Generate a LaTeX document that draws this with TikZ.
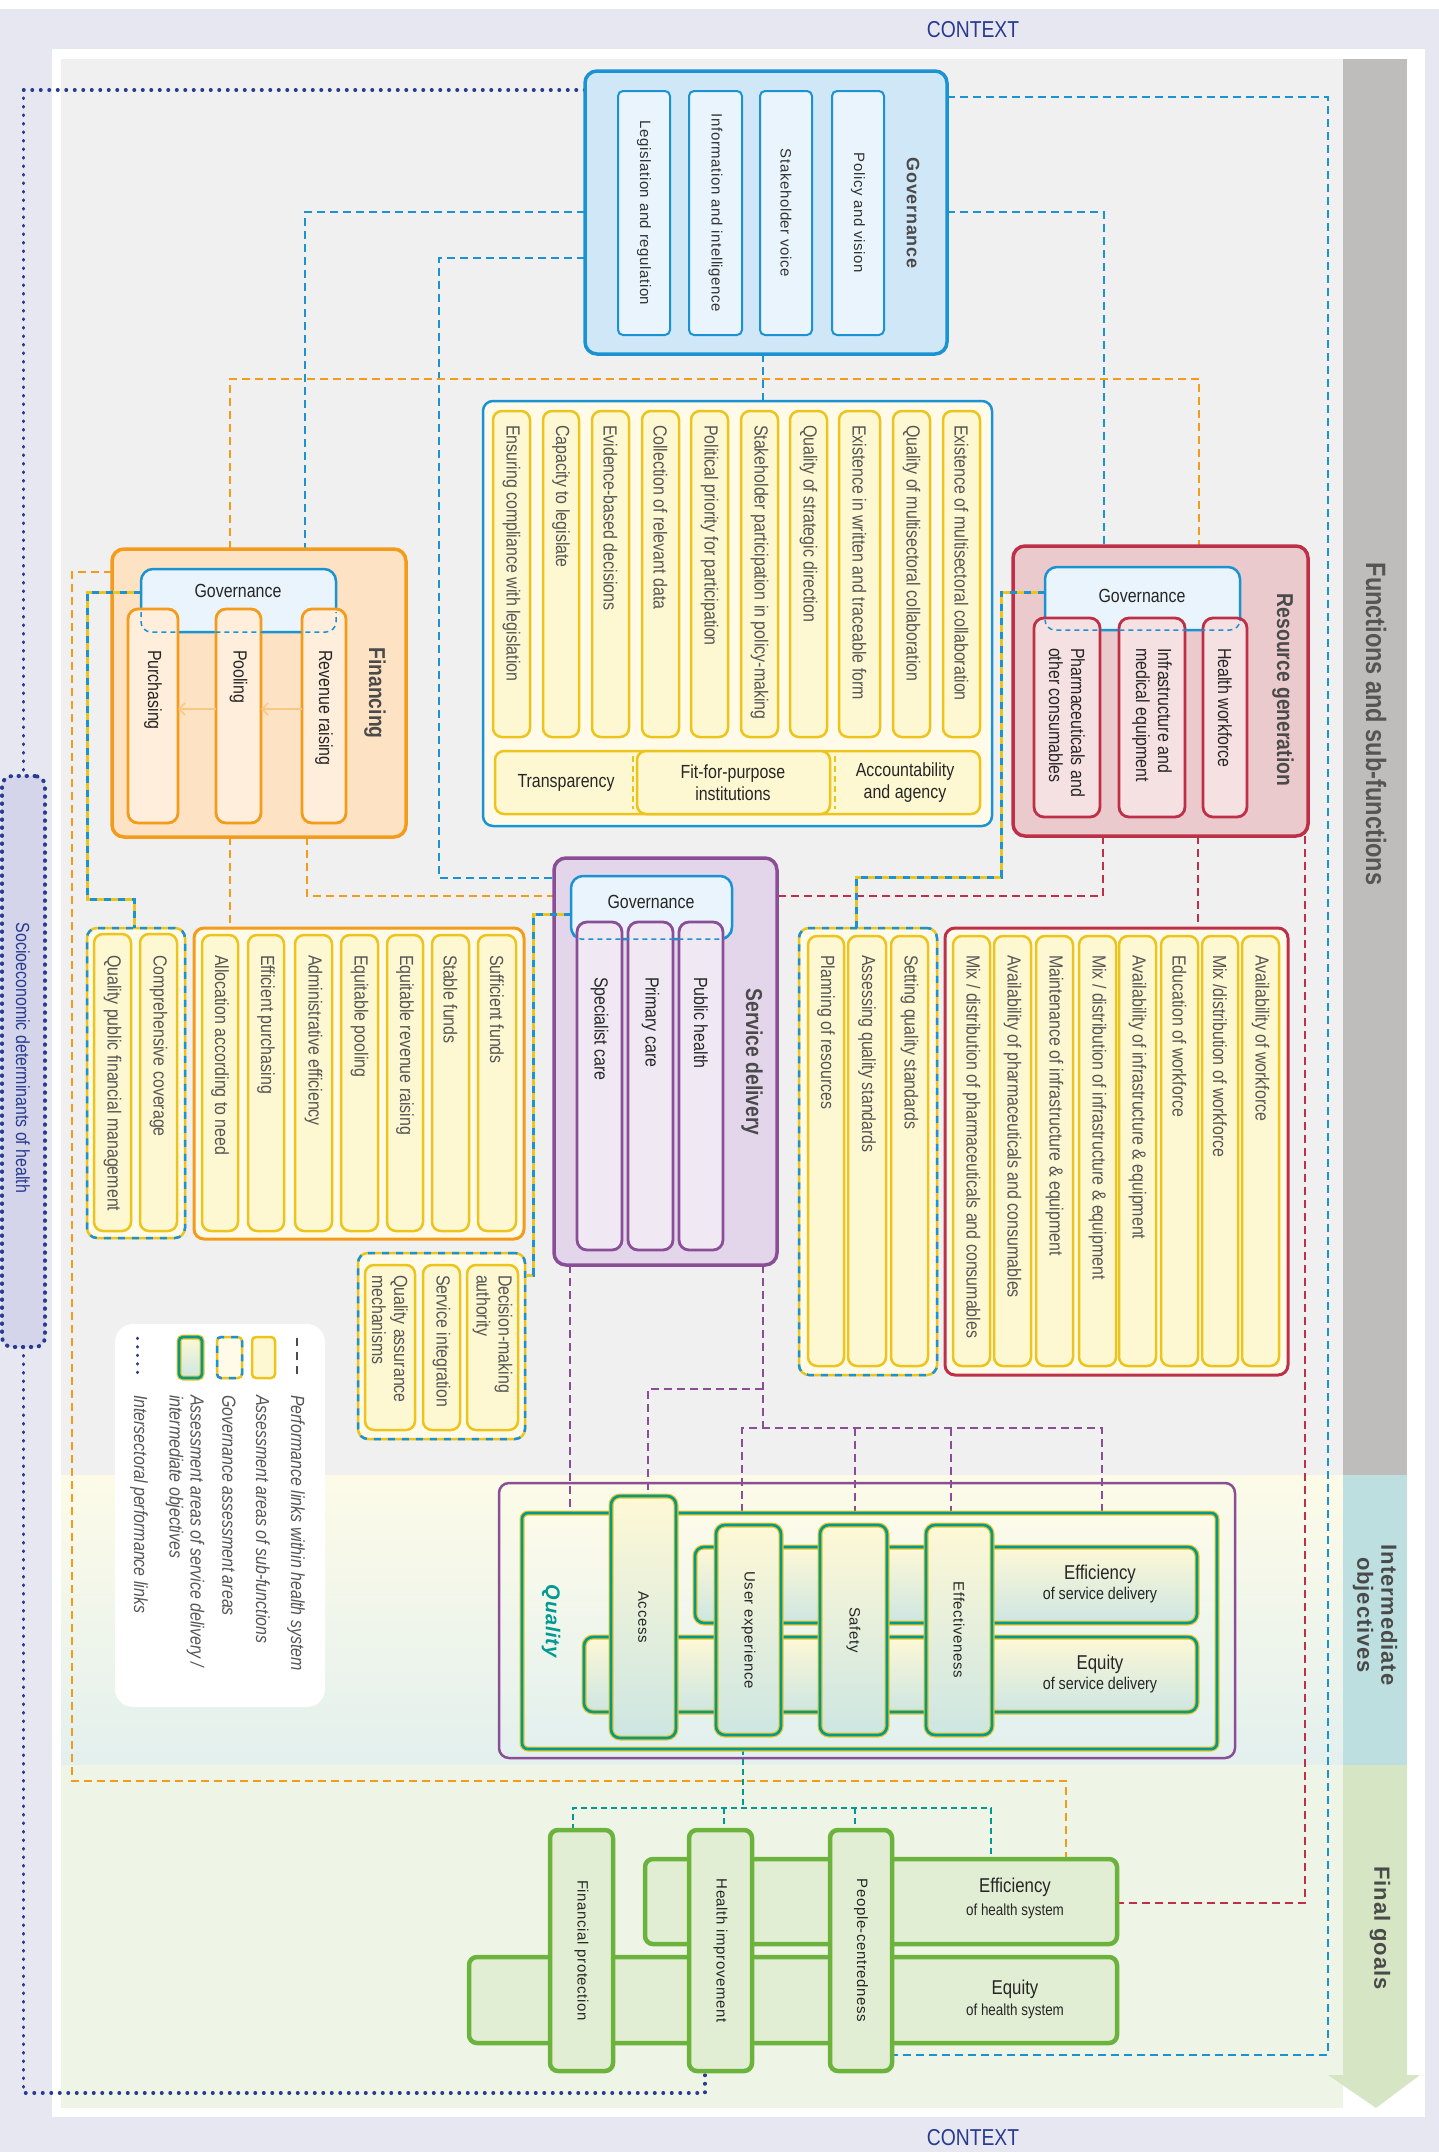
\documentclass[tikz,border=0pt]{standalone}
\usepackage{fontspec}
\setmainfont{Liberation Sans}
\newfontfamily\cnd[FakeStretch=0.84]{Liberation Sans}
\newfontfamily\wdf[LetterSpace=4]{Liberation Sans}
\usetikzlibrary{calc,arrows.meta}
\pgfdeclarelayer{bg}\pgfdeclarelayer{conn}
\pgfsetlayers{bg,conn,main}
\definecolor{lav}{HTML}{E7E7F2}
\definecolor{greyarea}{HTML}{F0F0F0}
\definecolor{funcol}{HTML}{BEBDBC}
\definecolor{intcol}{HTML}{BEDFE0}
\definecolor{fincol}{HTML}{D6E6C4}
\definecolor{finband}{HTML}{EFF5E6}
\definecolor{intop}{HTML}{FDFBE8}
\definecolor{inbot}{HTML}{E3F0EE}
\definecolor{gblue}{HTML}{1B93D3}
\definecolor{gfill}{HTML}{D0E7F7}
\definecolor{gsub}{HTML}{EAF4FC}
\definecolor{orng}{HTML}{F39B1B}
\definecolor{ofill}{HTML}{FDE3C4}
\definecolor{ocol}{HTML}{FEEEDB}
\definecolor{crim}{HTML}{BE3047}
\definecolor{cfill}{HTML}{EBCACD}
\definecolor{ccol}{HTML}{F5E0E2}
\definecolor{purp}{HTML}{8A4E97}
\definecolor{pfill}{HTML}{E3D6EA}
\definecolor{pcol}{HTML}{F0E9F4}
\definecolor{ylw}{HTML}{EDC41C}
\definecolor{yfill}{HTML}{FEF8D2}
\definecolor{cream}{HTML}{FFFBE8}
\definecolor{tealc}{HTML}{009A93}
\definecolor{ibtop}{HTML}{FEF8D6}
\definecolor{ibbot}{HTML}{CDE6E2}
\definecolor{qtop}{HTML}{FDFBEA}
\definecolor{qbot}{HTML}{E2F0EE}
\definecolor{grn}{HTML}{6BB33D}
\definecolor{gnfill}{HTML}{E2EED3}
\definecolor{dkblue}{HTML}{283B8F}
\definecolor{sociof}{HTML}{D4D4EA}
\definecolor{txtg}{HTML}{555555}
\definecolor{titg}{HTML}{4A4A4A}
\newcommand\bx[6]{\pgfmathsetmacro\mybw{#5-#3}\pgfmathsetmacro\mybh{#6-#4}%
  \node[#1, minimum width=\mybw pt, minimum height=\mybh pt, anchor=north west] (#2) at (#3,#4) {};}
\newcommand\col[8][15]{\bx{#2}{#3}{#4}{#5}{#6}{#7}%
  \node[#2t, rotate=-90, anchor=west, align=left] (#3t) at ($(#3.north)+(0,#1)$) {#8};}
\tikzset{
 every node/.style={inner sep=0pt, outer sep=0pt},
 mainbox/.style={draw, line width=3.5pt, rounded corners=12pt},
 govbig/.style={mainbox, draw=gblue, fill=gfill},
 govcol/.style={draw=gblue, line width=2pt, fill=gsub, rounded corners=5pt},
 govsub/.style={draw=gblue, line width=2.5pt, fill=gsub, rounded corners=12pt},
 finbox/.style={mainbox, draw=orng, fill=ofill},
 fcol/.style={draw=orng, line width=2.8pt, fill=ocol, rounded corners=10pt},
 rgbox/.style={mainbox, draw=crim, fill=cfill},
 rcol/.style={draw=crim, line width=2.8pt, fill=ccol, rounded corners=10pt},
 sdbox/.style={mainbox, draw=purp, fill=pfill},
 pcolb/.style={draw=purp, line width=2.8pt, fill=pcol, rounded corners=10pt},
 item/.style={draw=ylw, line width=2.5pt, fill=yfill, rounded corners=9pt},
 glist/.style={draw=gblue, line width=2.5pt, fill=cream, rounded corners=10pt},
 olist/.style={draw=orng, line width=3pt, fill=cream, rounded corners=10pt},
 clist/.style={draw=crim, line width=3pt, fill=cream, rounded corners=10pt},
 gassess/.style={draw=ylw, line width=2.5pt, fill=cream, rounded corners=10pt,
   postaction={draw=gblue, line width=2.5pt, dash pattern=on 7pt off 7pt}},
 ibox/.style={draw=ylw, double=tealc, double distance=2.6pt, line width=1.2pt,
   rounded corners=9pt, top color=ibtop, bottom color=ibbot},
 qbox/.style={ibox, rounded corners=6pt, top color=qtop, bottom color=qbot},
 gbox/.style={draw=grn, line width=4.5pt, fill=gnfill, rounded corners=8pt},
 sociobox/.style={draw=dkblue, fill=sociof, line width=4pt, dash pattern=on 0.5pt off 7.5pt, line cap=round, rounded corners=10pt},
 legbox/.style={fill=white, rounded corners=18pt},
 purpbx/.style={draw=purp, line width=2.5pt, rounded corners=10pt},
 cndt/.style={font=\cnd\fontsize{19}{22}\selectfont},
 itemt/.style={cndt, text=txtg},
 fcolt/.style={cndt, text=black!85},
 rcolt/.style={cndt, text=black!85},
 pcolbt/.style={cndt, text=black!85},
 subgt/.style={cndt, text=black!85},
 gwt/.style={font=\wdf\fontsize{15}{18}\selectfont, text=black!80, rotate=-90},
 pilt/.style={font=\wdf\fontsize{15}{18}\selectfont, text=black!85, rotate=-90},
 ttl/.style={rotate=-90, font=\cnd\bfseries\fontsize{23}{26}\selectfont, text=titg},
 bandt/.style={rotate=-90, font=\wdf\bfseries\fontsize{22}{24}\selectfont, text=titg, align=center},
 legt/.style={rotate=-90, anchor=west, align=left, font=\cnd\itshape\fontsize{19}{21}\selectfont, text=txtg},
 lnk/.style={line width=2.5pt, dash pattern=on 8pt off 5pt},
 lnb/.style={lnk, draw=gblue},
 lno/.style={lnk, draw=orng},
 lnc/.style={lnk, draw=crim},
 lnp/.style={lnk, draw=purp},
 lnt/.style={line width=2.5pt, dash pattern=on 6pt off 4pt, draw=tealc},
 byline/.style={draw=ylw, line width=3pt, postaction={draw=gblue, line width=3pt, dash pattern=on 7pt off 7pt}},
 dotl/.style={line width=3.5pt, draw=dkblue, dash pattern=on 0.5pt off 8pt, line cap=round},
 farr/.style={draw=orng!55, line width=1.5pt, -{Straight Barb[length=6pt,width=12pt]}},
}
\begin{document}
\begin{tikzpicture}[x=1pt,y=-1pt]
\useasboundingbox (0,0) rectangle (1439,2152);
\begin{pgfonlayer}{bg}
\fill[white] (0,0) rectangle (1439,2152);
\fill[lav] (0,9) rectangle (1439,2152);
\fill[white] (52,49) rectangle (1425,2117);
\fill[greyarea] (61,59) rectangle (1343,1475);
\fill[funcol] (1343,59) rectangle (1407,1475);
\shade[top color=intop, bottom color=inbot] (61,1475) rectangle (1343,1765);
\fill[intcol] (1343,1475) rectangle (1407,1765);
\fill[finband] (61,1765) rectangle (1343,2108);
\fill[fincol] (1343,1765) -- (1407,1765) -- (1407,2075) -- (1420,2075) -- (1376,2108) -- (1328,2075) -- (1343,2075) -- cycle;
\end{pgfonlayer}

% band labels and context
\node[rotate=-90, font=\cnd\bfseries\fontsize{28}{30}\selectfont, text=txtg] (lblfun) at (1376,724) {Functions and sub-functions};
\node[bandt] (lblint) at (1375,1615) {Intermediate\\objectives};
\node[bandt] (lblfin) at (1380,1928) {Final goals};
\node[font=\cnd\fontsize{23}{26}\selectfont, text=dkblue] (ctx1) at (973,30) {CONTEXT};
\node[font=\cnd\fontsize{23}{26}\selectfont, text=dkblue] (ctx2) at (973,2138) {CONTEXT};

% socioeconomic determinants
\bx{sociobox}{socio}{2}{776}{45}{1347}
\node[rotate=-90, font=\cnd\fontsize{19}{22}\selectfont, text=dkblue] (sociot) at (23,1058) {Socioeconomic determinants of health};

% top governance
\bx{govbig}{topgov}{585}{71}{947}{354}
\bx{govcol}{gc1}{618}{91}{670}{335}
\bx{govcol}{gc2}{689}{91}{742}{335}
\bx{govcol}{gc3}{760}{91}{812}{335}
\bx{govcol}{gc4}{832}{91}{884}{335}
\node[gwt] (gc1t) at (gc1.center) {Legislation and regulation};
\node[gwt] (gc2t) at (gc2.center) {Information and intelligence};
\node[gwt] (gc3t) at (gc3.center) {Stakeholder voice};
\node[gwt] (gc4t) at (gc4.center) {Policy and vision};
\node[rotate=-90, font=\wdf\bfseries\fontsize{18}{20}\selectfont, text=titg] (topgovt) at (913,213) {Governance};

% governance assessment list
\bx{glist}{govlist}{483}{401}{992}{826}
\col[14]{item}{gl1}{493}{411}{530}{737}{Ensuring compliance with legislation}
\col[14]{item}{gl2}{543}{411}{579}{737}{Capacity to legislate}
\col[14]{item}{gl3}{592}{411}{629}{737}{Evidence-based decisions}
\col[14]{item}{gl4}{642}{411}{679}{737}{Collection of relevant data}
\col[14]{item}{gl5}{691}{411}{728}{737}{Political priority for participation}
\col[14]{item}{gl6}{741}{411}{778}{737}{Stakeholder participation in policy-making}
\col[14]{item}{gl7}{790}{411}{827}{737}{Quality of strategic direction}
\col[14]{item}{gl8}{839}{411}{880}{737}{Existence in written and traceable form}
\col[14]{item}{gl9}{893}{411}{930}{737}{Quality of multisectoral collaboration}
\col[14]{item}{gl10}{943}{411}{980}{737}{Existence of multisectoral collaboration}
\bx{item}{glrow}{495}{751}{980}{814}
\bx{item}{glmid}{637}{751}{830}{814}
\draw[draw=ylw, line width=2pt, dash pattern=on 6pt off 4pt] (633,756) -- (633,809);
\draw[draw=ylw, line width=2pt, dash pattern=on 6pt off 4pt] (835,756) -- (835,809);
\node[subgt] (trt) at (566,783) {Transparency};
\node[subgt, align=center] (fft) at (733,783) {Fit-for-purpose\\institutions};
\node[subgt, align=center] (act) at (905,783) {Accountability\\and agency};

% financing
\bx{finbox}{fin}{112}{549}{406}{837}
\bx{govsub}{fingov}{141}{569}{336}{632}
\node[subgt] (fingovt) at (238,591) {Governance};
\col[41]{fcol}{purch}{128}{609}{178}{823}{Purchasing}
\col[41]{fcol}{pool}{216}{609}{261}{823}{Pooling}
\col[41]{fcol}{rev}{302}{609}{346}{823}{Revenue raising}
\draw[gblue, line width=1.5pt, dash pattern=on 5pt off 4pt, rounded corners=10pt] (141,612) -- (141,632) -- (336,632) -- (336,612);
\draw[farr] (rev.west |- 0,709) -- (pool.east |- 0,709);
\draw[farr] (pool.west |- 0,709) -- (purch.east |- 0,709);
\node[ttl] (fint) at (375,693) {Financing};

% resource generation
\bx{rgbox}{resgen}{1013}{546}{1308}{836}
\bx{govsub}{rggov}{1045}{567}{1240}{630}
\node[subgt] (rggovt) at (1142,596) {Governance};
\col[30]{rcol}{pharm}{1034}{618}{1100}{817}{Pharmaceuticals and\\other consumables}
\col[30]{rcol}{infra}{1119}{618}{1185}{817}{Infrastructure and\\medical equipment}
\col[30]{rcol}{hwf}{1203}{618}{1247}{817}{Health workforce}
\draw[gblue, line width=1.5pt, dash pattern=on 5pt off 4pt, rounded corners=10pt] (1045,621) -- (1045,630) -- (1240,630) -- (1240,621);
\node[ttl] (rgt) at (1283,690) {Resource generation};

% service delivery
\bx{sdbox}{sd}{554}{858}{777}{1265}
\bx{govsub}{sdgov}{571}{876}{732}{939}
\node[subgt] (sdgovt) at (651,902) {Governance};
\col[55]{pcolb}{spec}{577}{922}{622}{1250}{Specialist care}
\col[55]{pcolb}{prim}{628}{922}{673}{1250}{Primary care}
\col[55]{pcolb}{pubh}{679}{922}{723}{1250}{Public health}
\draw[gblue, line width=1.5pt, dash pattern=on 5pt off 4pt, rounded corners=10pt] (571,925) -- (571,939) -- (732,939) -- (732,925);
\node[ttl] (sdt) at (752,1062) {Service delivery};

% financing assessment
\bx{gassess}{finga}{87}{928}{185}{1238}
\col[21]{item}{fa1}{94}{934}{131}{1231}{Quality public financial management}
\col[21]{item}{fa2}{140}{934}{177}{1231}{Comprehensive coverage}
\bx{olist}{finlist}{194}{928}{524}{1239}
\col[20]{item}{fl1}{202}{935}{238}{1231}{Allocation according to need}
\col[20]{item}{fl2}{248}{935}{284}{1231}{Efficient purchasing}
\col[20]{item}{fl3}{295}{935}{332}{1231}{Administrative efficiency}
\col[20]{item}{fl4}{341}{935}{378}{1231}{Equitable pooling}
\col[20]{item}{fl5}{387}{935}{423}{1231}{Equitable revenue raising}
\col[20]{item}{fl6}{432}{935}{469}{1231}{Stable funds}
\col[20]{item}{fl7}{478}{935}{516}{1231}{Sufficient funds}

% service delivery governance assessment
\bx{gassess}{sdga}{358}{1253}{525}{1439}
\col[10]{item}{sa1}{365}{1265}{415}{1430}{Quality assurance\\mechanisms}
\col[10]{item}{sa2}{423}{1265}{460}{1430}{Service integration}
\col[10]{item}{sa3}{467}{1265}{518}{1430}{Decision-making\\authority}

% resource generation assessment
\bx{gassess}{sda}{799}{928}{937}{1375}
\col[19]{item}{sd1}{808}{936}{844}{1366}{Planning of resources}
\col[19]{item}{sd2}{848}{936}{886}{1366}{Assessing quality standards}
\col[19]{item}{sd3}{891}{936}{928}{1366}{Setting quality standards}
\bx{clist}{rglist}{945}{928}{1288}{1375}
\col[19]{item}{rl1}{953}{936}{990}{1366}{Mix / distribution of pharmaceuticals and consumables}
\col[19]{item}{rl2}{994}{936}{1031}{1366}{Availability of pharmaceuticals and consumables}
\col[19]{item}{rl3}{1036}{936}{1073}{1366}{Maintenance of infrastructure \& equipment}
\col[19]{item}{rl4}{1079}{936}{1116}{1366}{Mix / distribution of infrastructure \& equipment}
\col[19]{item}{rl5}{1119}{936}{1156}{1366}{Availability of infrastructure \& equipment}
\col[19]{item}{rl6}{1161}{936}{1198}{1366}{Education of workforce}
\col[19]{item}{rl7}{1202}{936}{1238}{1366}{Mix /distribution of workforce}
\col[19]{item}{rl8}{1242}{936}{1279}{1366}{Availability of workforce}

% legend
\bx{legbox}{legend}{115}{1324}{325}{1707}
\draw[draw=black!70, line width=2pt, dash pattern=on 8pt off 6pt] (297,1338) -- (297,1378);
\bx{item, rounded corners=4pt}{lg2}{252}{1337}{275}{1378}
\bx{gassess, rounded corners=4pt}{lg3}{217}{1337}{242}{1378}
\bx{ibox, rounded corners=4pt}{lg4}{179}{1337}{202}{1378}
\draw[dotl, line width=3pt] (137,1338) -- (137,1380);
\node[legt] (lgt1) at (296,1395) {Performance links within health system};
\node[legt] (lgt2) at (263,1395) {Assessment areas of sub-functions};
\node[legt] (lgt3) at (229,1395) {Governance assessment areas};
\node[legt] (lgt4) at (185,1395) {Assessment areas of service delivery /\\intermediate objectives};
\node[legt] (lgt5) at (139,1395) {Intersectoral performance links};

% intermediate objectives
\bx{purpbx}{purpbox}{499}{1483}{1235}{1758}
\bx{qbox}{qual}{522}{1513}{1217}{1749}
\node[rotate=-90, font=\wdf\bfseries\itshape\fontsize{20}{22}\selectfont, text=tealc] (qualt) at (551,1621) {Quality};
\bx{ibox}{effsd}{695}{1547}{1197}{1623}
\bx{ibox}{eqsd}{584}{1637}{1197}{1712}
\node[font=\cnd\fontsize{20}{22}\selectfont, text=black!85] (effsdt1) at (1100,1574) {Efficiency};
\node[font=\cnd\fontsize{17}{20}\selectfont, text=black!85] (effsdt2) at (1100,1595) {of service delivery};
\node[font=\cnd\fontsize{20}{22}\selectfont, text=black!85] (eqsdt1) at (1100,1664) {Equity};
\node[font=\cnd\fontsize{17}{20}\selectfont, text=black!85] (eqsdt2) at (1100,1685) {of service delivery};
\bx{ibox}{access}{611}{1496}{676}{1738}
\bx{ibox}{ux}{716}{1525}{781}{1735}
\bx{ibox}{safety}{820}{1525}{887}{1735}
\bx{ibox}{effect}{926}{1525}{992}{1735}
\node[pilt] (accesst) at (access.center) {Access};
\node[pilt] (uxt) at (ux.center) {User experience};
\node[pilt] (safetyt) at (safety.center) {Safety};
\node[pilt] (effectt) at (effect.center) {Effectiveness};

% final goals
\bx{gbox}{effhs}{645}{1859}{1117}{1944}
\bx{gbox}{eqhs}{469}{1957}{1117}{2043}
\node[font=\cnd\fontsize{20}{22}\selectfont, text=black!85] (effhst1) at (1015,1887) {Efficiency};
\node[font=\cnd\fontsize{16}{19}\selectfont, text=black!85] (effhst2) at (1015,1911) {of health system};
\node[font=\cnd\fontsize{20}{22}\selectfont, text=black!85] (eqhst1) at (1015,1989) {Equity};
\node[font=\cnd\fontsize{16}{19}\selectfont, text=black!85] (eqhst2) at (1015,2011) {of health system};
\bx{gbox}{fp}{550}{1830}{613}{2071}
\bx{gbox}{hi}{689}{1830}{752}{2071}
\bx{gbox}{pc}{830}{1830}{892}{2071}
\node[pilt] (fpt) at (fp.center) {Financial protection};
\node[pilt] (hit) at (hi.center) {Health improvement};
\node[pilt] (pct) at (pc.center) {People-centredness};

% governance-assessment links (over boxes)
\draw[byline] (fingov.west |- 0,592) -- (87,592) -- (87,899) -- (134,899) -- (134,0 |- finga.north);
\draw[byline] (rggov.west |- 0,592) -- (1001,592) -- (1001,877) -- (856,877) -- (856,0 |- sda.north);
\draw[byline] (sdgov.west |- 0,914) -- (533,914) -- (533,1275) -- (sdga.east |- 0,1275);

\begin{pgfonlayer}{conn}
\draw[dotl] (topgov.west |- 0,90) -| (socio.north);
\draw[dotl] (socio.south) |- (705,2093) -- (705,0 |- hi.south);
\draw[lnb] (topgov.east |- 0,97) -| (1328,2055) -- (pc.east |- 0,2055);
\draw[lnb] (topgov.east |- 0,212) -| (1104,0 |- resgen.north);
\draw[lnb] (topgov.west |- 0,212) -| (305,0 |- fin.north);
\draw[lnb] (topgov.west |- 0,258) -| (439,878) -- (sd.west |- 0,878);
\draw[lnb] (763,0 |- topgov.south) -- (763,0 |- govlist.north);
\draw[lno] (230,0 |- fin.north) |- (1199,379) -- (1199,0 |- resgen.north);
\draw[lno] (fin.west |- 0,572) -| (72,1781) -| (1066,0 |- effhs.north);
\draw[lno] (230,0 |- fin.south) -- (230,0 |- finlist.north);
\draw[lno] (307,0 |- fin.south) |- (sd.west |- 0,896);
\draw[lnc] (1103,0 |- resgen.south) |- (sd.east |- 0,896);
\draw[lnc] (1198,0 |- resgen.south) -- (1198,0 |- rglist.north);
\draw[lnc] (1305,0 |- resgen.south) |- (effhs.east |- 0,1903);
\draw[lnp] (570,0 |- sd.south) -- (570,0 |- qual.north);
\draw[lnp] (763,0 |- sd.south) -- (763,1428);
\draw[lnp] (763,1389) -| (648,0 |- access.north);
\draw[lnp] (742,0 |- ux.north) |- (1102,1428) -- (1102,0 |- effsd.north);
\draw[lnp] (855,1428) -- (855,0 |- safety.north);
\draw[lnp] (951,1428) -- (951,0 |- effect.north);
\draw[lnt] (743,0 |- qual.south) -- (743,1808);
\draw[lnt] (573,0 |- fp.north) |- (991,1808) -- (991,0 |- effhs.north);
\draw[lnt] (724,1808) -- (724,0 |- hi.north);
\draw[lnt] (855,1808) -- (855,0 |- pc.north);
\end{pgfonlayer}
\end{tikzpicture}
\end{document}
